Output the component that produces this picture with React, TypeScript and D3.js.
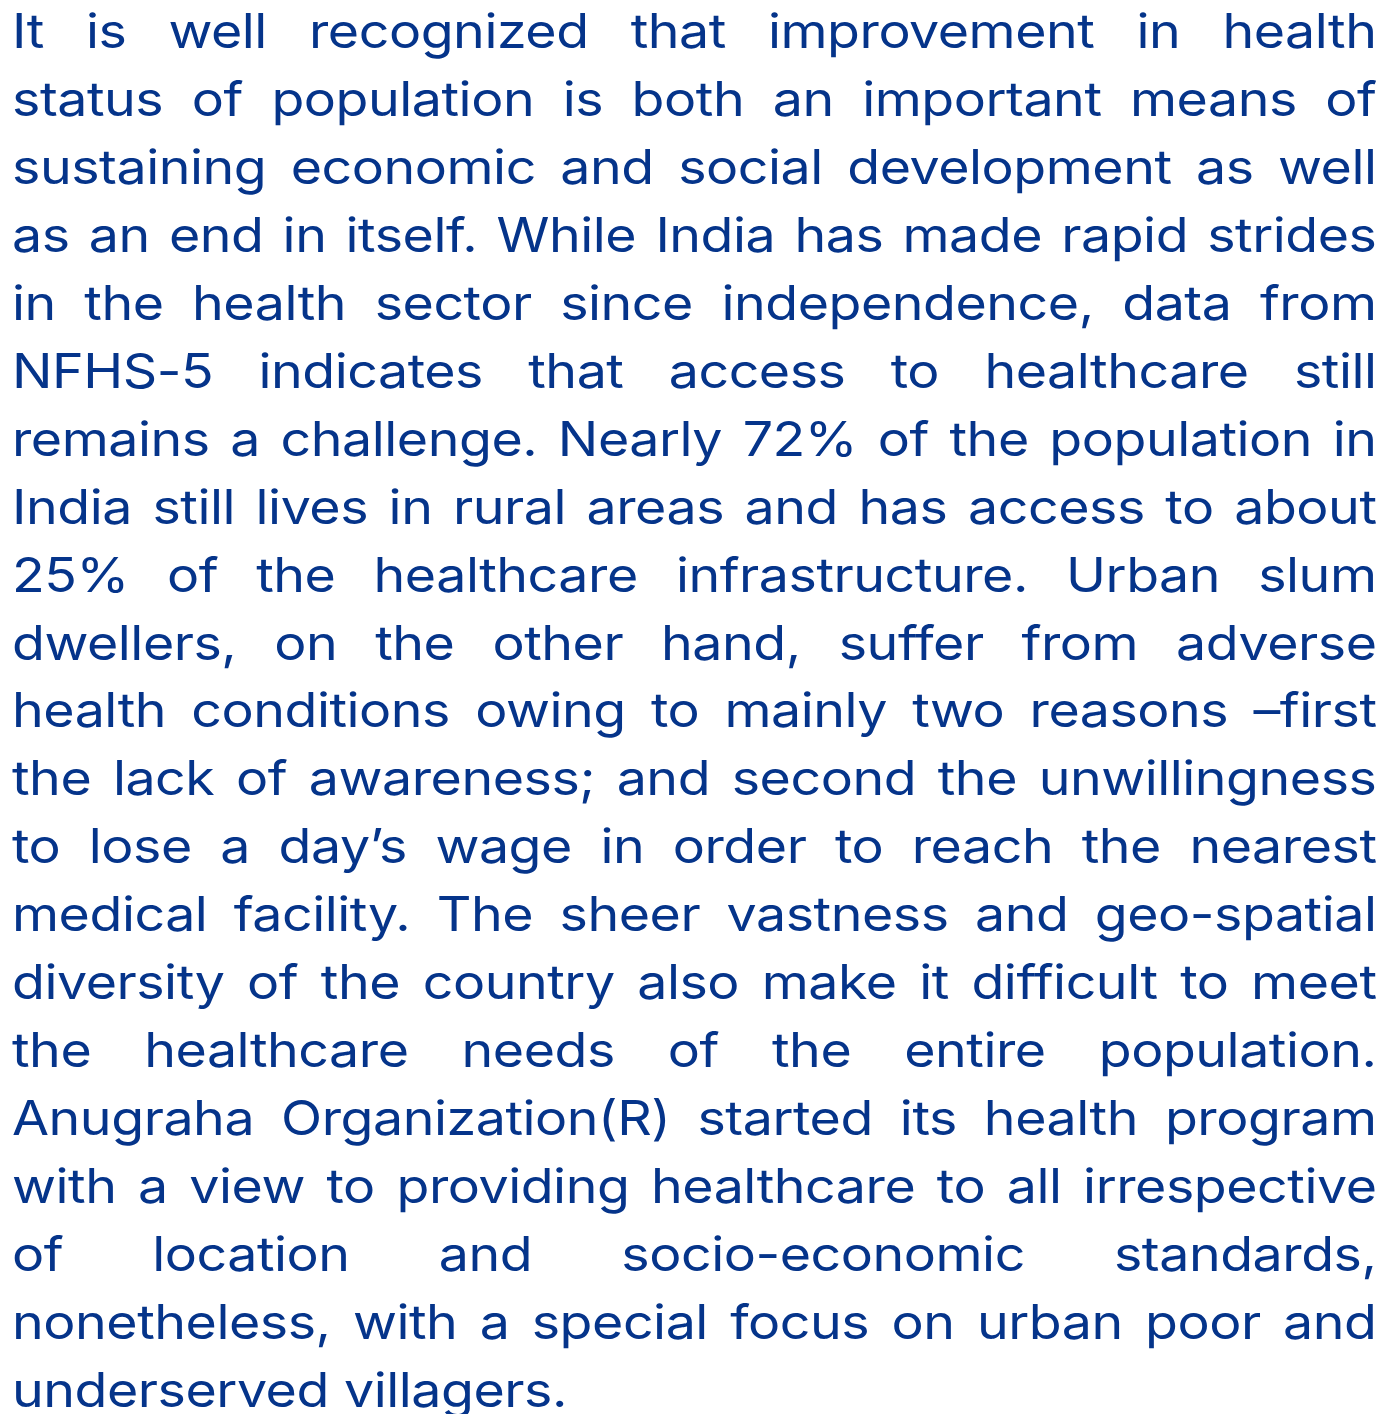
import * as React from "react"
import { select } from "d3"

const lines = [
  "It is well recognized that improvement in health",
  "status of population is both an important means of",
  "sustaining economic and social development as well",
  "as an end in itself. While India has made rapid strides",
  "in the health sector since independence, data from",
  "NFHS-5 indicates that access to healthcare still",
  "remains a challenge. Nearly 72% of the population in",
  "India still lives in rural areas and has access to about",
  "25% of the healthcare infrastructure. Urban slum",
  "dwellers, on the other hand, suffer from adverse",
  "health conditions owing to mainly two reasons –first",
  "the lack of awareness; and second the unwillingness",
  "to lose a day’s wage in order to reach the nearest",
  "medical facility. The sheer vastness and geo-spatial",
  "diversity of the country also make it difficult to meet",
  "the healthcare needs of the entire population.",
  "Anugraha Organization(R) started its health program",
  "with a view to providing healthcare to all irrespective",
  "of location and socio-economic standards,",
  "nonetheless, with a special focus on urban poor and",
  "underserved villagers.",
]

function App() {
  const svgRef = React.useRef<SVGSVGElement>(null)

  const width = 1399
  const height = 1414
  const left = 12
  const right = 1377
  const firstBaseline = 48
  const lineHeight = 67.95
  const fontSize = 48
  const sx = 1.12 // glyphs of the reference font are wider
  const color = "#05348a"
  const lastWidth = 555

  React.useEffect(() => {
    const svg = select(svgRef.current)
    svg.selectAll("*").remove()

    const g = svg
      .append("g")
      .attr("transform", `scale(${sx},1)`)
      .attr("font-family", "Inter, sans-serif")
      .attr("font-size", fontSize)
      .attr("fill", color)

    // fit letter spacing so the last (unjustified) line has the same width
    const lastLine = lines[lines.length - 1]
    const probe = g.append("text").text(lastLine)
    const w0 = (probe.node() as SVGTextElement).getComputedTextLength()
    probe.remove()
    const ls = (lastWidth / sx - w0) / (lastLine.length - 1)
    g.attr("letter-spacing", ls)

    const L = left / sx
    const R = right / sx

    lines.forEach((line, i) => {
      const y = firstBaseline + i * lineHeight
      const words = line.split(" ")
      const nodes = words.map((w) => g.append("text").attr("y", y).text(w))
      const widths = nodes.map(
        (t) => (t.node() as SVGTextElement).getComputedTextLength() - ls
      )
      const last = i === lines.length - 1
      const total = widths.reduce((a, b) => a + b, 0)
      let gap = last ? fontSize * 0.28 + ls : (R - L - total) / (words.length - 1)
      let scale = 1
      if (!last && gap < 8) {
        gap = 8
        scale = (R - L - gap * (words.length - 1)) / total
      }
      let x = L
      nodes.forEach((t, j) => {
        t.attr("x", x)
        if (scale !== 1)
          t.attr("textLength", widths[j] * scale).attr("lengthAdjust", "spacingAndGlyphs")
        x += widths[j] * scale + gap
      })
    })
  }, [])

  return (
    <svg
      ref={svgRef}
      width={width}
      height={height}
      style={{ display: "block", position: "absolute", left: 0, top: 0 }}
    ></svg>
  )
}

export default App
